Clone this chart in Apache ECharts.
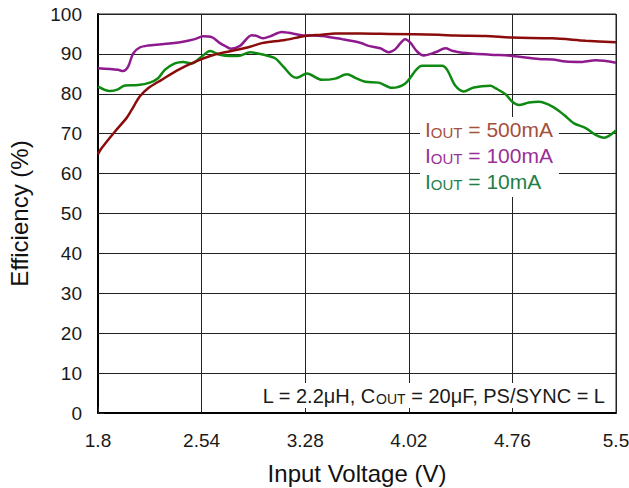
<!DOCTYPE html>
<html>
<head>
<meta charset="utf-8">
<script src="https://cdn.jsdelivr.net/npm/echarts@6/dist/echarts.min.js"></script>
<style>
  html, body { margin: 0; padding: 0; background: #fff; overflow: hidden; }
  #chart { width: 629px; height: 488px; }
</style>
</head>
<body>
<div id="chart"></div>
<script>
// X tick labels (input voltage, V)
const xTicks = [1.8, 2.54, 3.28, 4.02, 4.76, 5.5];

// IOUT = 500mA
const v500 = [1.80,1.824,1.92,2.003,2.039,2.098,2.158,2.254,2.373,2.492,2.612,2.707,2.886,2.970,3.136,3.28,3.399,3.494,3.673,3.876,4.234,4.353,4.568,4.759,5.046,5.284,5.5];
const e500 = [64.9,66.3,70.5,73.9,75.9,79.3,81.4,83.5,86.0,88.0,89.6,90.4,91.8,92.7,93.5,94.5,94.8,95.1,95.1,95.0,94.8,94.6,94.5,94.1,93.9,93.3,92.9];

// IOUT = 100mA
const v100 = [1.80,1.943,1.979,2.015,2.051,2.098,2.158,2.254,2.397,2.492,2.552,2.612,2.671,2.707,2.75,2.814,2.898,2.934,2.981,3.029,3.113,3.160,3.256,3.399,3.542,3.673,3.733,3.816,3.876,3.924,3.995,4.031,4.079,4.126,4.210,4.282,4.330,4.401,4.604,4.759,4.950,5.046,5.141,5.260,5.355,5.5];
const e100 = [86.4,86.0,85.7,86.8,90.1,91.6,92.1,92.4,93.0,93.7,94.4,94.2,92.7,92.0,91.3,92.0,94.7,94.5,93.9,94.4,95.5,95.3,94.7,94.5,93.7,92.8,92.0,91.4,90.4,91.2,93.7,92.8,90.6,89.6,90.4,91.4,90.8,90.3,89.8,89.5,88.7,88.6,88.1,88.0,88.4,87.8];

// IOUT = 10mA
const v10 = [1.80,1.884,1.943,1.991,2.086,2.170,2.229,2.277,2.349,2.408,2.469,2.540,2.600,2.671,2.743,2.802,2.886,2.993,3.065,3.124,3.184,3.220,3.292,3.399,3.494,3.578,3.638,3.709,3.804,3.900,3.995,4.115,4.258,4.294,4.353,4.413,4.484,4.604,4.639,4.711,4.759,4.806,4.878,4.950,5.046,5.129,5.200,5.284,5.355,5.415,5.5];
const e10 = [81.8,80.7,81.1,82.1,82.2,82.8,83.9,86.0,87.6,88.0,87.6,89.3,90.7,89.8,89.5,89.5,90.4,89.7,88.9,86.8,84.5,84.0,85.1,83.5,83.8,84.9,84.0,83.0,82.8,81.5,82.6,87.0,87.0,86.0,82.0,80.6,81.6,82.0,81.4,79.9,78.0,77.2,77.8,78.0,76.8,74.7,72.6,71.4,69.7,69.0,70.8];

const seriesNames = ['IOUT = 500mA', 'IOUT = 100mA', 'IOUT = 10mA'];
const lineColors = ['#8b0c0c', '#8e1a8e', '#0e8a12'];
const textColors = ['#a4503c', '#9a2f98', '#1f7f48'];

// map voltage onto the evenly spaced tick index scale of the axis
const x0 = xTicks[0];
const step = xTicks[1] - xTicks[0];
function pairs(vs, es) { return vs.map((v, i) => [(v - x0) / step, es[i]]); }

const FONT = "'Liberation Sans', Arial, sans-serif";
const chart = echarts.init(document.getElementById('chart'), null, { renderer: 'svg' });

function mkSeries(idx, vs, es) {
  return {
    name: seriesNames[idx], type: 'line', data: pairs(vs, es),
    showSymbol: false, smooth: 0.3,
    lineStyle: { color: lineColors[idx], width: 2.5 },
    itemStyle: { color: lineColors[idx] }, animation: false
  };
}

chart.setOption({
  backgroundColor: '#fff',
  animation: false,
  grid: { left: 98, right: 13, top: 14, bottom: 75, show: true, borderColor: '#222', borderWidth: 1,
          containLabel: false, outerBoundsMode: 'none' },
  xAxis: {
    type: 'value', min: 0, max: xTicks.length - 1, interval: 1,
    axisLine: { show: true, lineStyle: { color: '#000', width: 2 } },
    axisTick: { show: true, inside: true, length: 6, lineStyle: { color: '#222' } },
    splitLine: { show: true, lineStyle: { color: '#222', width: 1 } },
    axisLabel: { formatter: v => String(xTicks[v]), fontSize: 19, color: '#1a1a1a', margin: 18, fontFamily: FONT },
    name: 'Input Voltage (V)', nameLocation: 'middle', nameGap: 48,
    nameTextStyle: { fontSize: 24, color: '#111', fontFamily: FONT }
  },
  yAxis: {
    type: 'value', min: 0, max: 100, interval: 10,
    axisLine: { show: true, lineStyle: { color: '#000', width: 2 } },
    axisTick: { show: true, inside: true, length: 6, lineStyle: { color: '#222' } },
    splitLine: { show: true, lineStyle: { color: '#222', width: 1 } },
    axisLabel: { fontSize: 19, color: '#1a1a1a', margin: 16, fontFamily: FONT },
    name: 'Efficiency (%)', nameLocation: 'middle', nameGap: 67,
    nameTextStyle: { fontSize: 24, color: '#111', fontFamily: FONT }
  },
  legend: {
    orient: 'vertical', left: 420, top: 117, icon: 'none', itemWidth: 0, itemHeight: 0,
    itemGap: 5, padding: [2, 6, 5, 0], backgroundColor: '#fff', selectedMode: false,
    data: seriesNames.map((n, i) => ({ name: n, textStyle: { color: textColors[i] } })),
    formatter: name => '{i|I}{s|OUT}{t|' + name.slice(4) + '}',
    textStyle: {
      fontFamily: FONT,
      rich: {
        i: { fontSize: 21, verticalAlign: 'bottom', fontFamily: FONT },
        s: { fontSize: 15, verticalAlign: 'bottom', fontFamily: FONT },
        t: { fontSize: 21, verticalAlign: 'bottom', fontFamily: FONT }
      }
    }
  },
  title: {
    text: '{a|L = 2.2μH, C}{s|OUT}{a| = 20μF, PS/SYNC = L}',
    right: 18, top: 379, backgroundColor: '#fff', padding: [3, 6, 2, 6],
    textStyle: {
      fontFamily: FONT, color: '#1a1a1a', fontWeight: 'normal',
      rich: {
        a: { fontSize: 20, lineHeight: 24, verticalAlign: 'bottom', color: '#1a1a1a', fontWeight: 'normal', fontFamily: FONT },
        s: { fontSize: 14, lineHeight: 24, verticalAlign: 'bottom', color: '#1a1a1a', fontWeight: 'normal', fontFamily: FONT }
      }
    }
  },
  series: [
    mkSeries(2, v10, e10),
    mkSeries(1, v100, e100),
    mkSeries(0, v500, e500)
  ]
});
</script>
</body>
</html>
